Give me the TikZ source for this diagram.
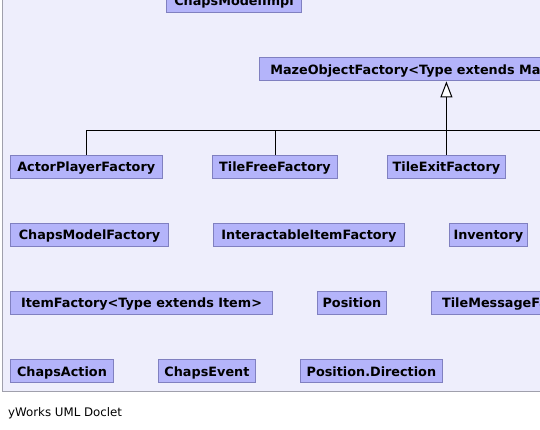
\documentclass[tikz,border=0pt]{standalone}
\usepackage{fontspec}
\setmainfont{DejaVu Sans}
\usetikzlibrary{arrows.meta}
\definecolor{panelfill}{RGB}{238,238,252}
\definecolor{panelline}{RGB}{160,160,172}
\definecolor{boxfill}{RGB}{180,180,250}
\definecolor{boxline}{RGB}{128,128,192}
\tikzset{
  cls/.style={draw=boxline, fill=boxfill, line width=1pt, inner sep=0pt,
    minimum height=23.6pt, text height=10.6pt, text depth=0.6pt,
    font=\fontsize{12.8}{14}\selectfont\bfseries, text=black},
  clsl/.style={cls, inner xsep=10.5pt},
  edge/.style={draw=black, line width=1pt},
  inherit/.style={edge, -{Triangle[open, length=16pt, width=12pt, fill=white]}}
}
\begin{document}
\begin{tikzpicture}[x=1pt,y=-1pt]
\useasboundingbox (0,0) rectangle (540,429);
\clip (0,0) rectangle (540,429);
\fill[white] (0,0) rectangle (540,429);
\draw[draw=panelline, fill=panelfill, line width=1pt] (2.75,-10) rectangle (560,391.7);

% classes (centres from reference pixel boxes)
\node[cls, minimum width=135.4pt] (cmi) at (234,0.9) {ChapsModelImpl};
\node[clsl, anchor=west] (maze) at (259.3,69.1) {MazeObjectFactory<Type extends MazeObject>};

\node[cls, minimum width=151.9pt] (apf) at (86.25,166.8) {ActorPlayerFactory};
\node[cls, minimum width=125pt] (tff) at (275,166.8) {TileFreeFactory};
\node[cls, minimum width=118.1pt] (tef) at (446.4,166.8) {TileExitFactory};

\node[cls, minimum width=158.4pt] (cmf) at (89.5,234.9) {ChapsModelFactory};
\node[cls, minimum width=191.4pt] (iif) at (308.9,234.9) {InteractableItemFactory};
\node[cls, minimum width=78pt] (inv) at (488.3,234.9) {Inventory};

\node[cls, minimum width=262.4pt] (itf) at (141.5,302.85) {ItemFactory<Type extends Item>};
\node[cls, minimum width=69.6pt] (pos) at (351.9,302.85) {Position};
\node[clsl, anchor=west] (tmf) at (431.1,302.85) {TileMessageFactory};

\node[cls, minimum width=103.3pt] (cha) at (61.95,371.15) {ChapsAction};
\node[cls, minimum width=97.1pt] (che) at (206.95,371.15) {ChapsEvent};
\node[cls, minimum width=142.2pt] (pdir) at (371.4,371.15) {Position.Direction};

% inheritance tree
\coordinate (barR) at (560,130.3);
\draw[edge] (apf.north) |- (barR);
\draw[edge] (tff.north) -- (tff.north |- barR);
\draw[inherit] (tef.north) -- (tef.north |- maze.south);

\node[anchor=base west, inner sep=0pt, font=\fontsize{11.8}{14}\selectfont] (cap) at (8,416) {yWorks UML Doclet};
\end{tikzpicture}
\end{document}
